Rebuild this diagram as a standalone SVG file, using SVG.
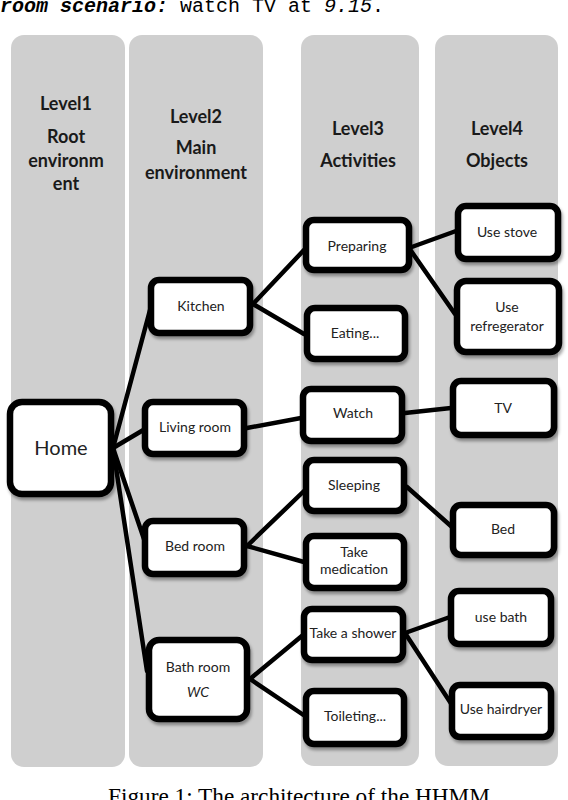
<svg xmlns="http://www.w3.org/2000/svg" width="568" height="800" viewBox="0 0 568 800">
<defs>
<filter id="sh" x="-20%" y="-20%" width="140%" height="150%">
<feDropShadow dx="1.5" dy="3" stdDeviation="1.8" flood-color="#000" flood-opacity="0.35"/>
</filter>
<style>
.col{fill:#cfcfcf;}
.hd{font-family:Lato,"Liberation Sans",sans-serif;font-size:18px;font-weight:bold;fill:#1a1a1a;text-anchor:middle;}
.nd rect{fill:#fff;stroke:#000;stroke-width:6.5;filter:url(#sh);}
.nd text{font-family:Lato,"Liberation Sans",sans-serif;font-size:14px;fill:#222;text-anchor:middle;}
.ln line{stroke:#000;stroke-width:4.5;stroke-linecap:round;}
</style>
</defs>
<rect width="568" height="800" fill="#fff"/>
<text x="0" y="12" font-family="'Liberation Mono',monospace" font-size="20" fill="#000"><tspan font-weight="bold" font-style="italic">room scenario:</tspan> watch TV at <tspan font-style="italic">9.15</tspan>.</text>
<g id="columns">
<rect class="col" x="11" y="35" width="114" height="732" rx="13"/>
<rect class="col" x="129" y="35" width="134" height="732" rx="13"/>
<rect class="col" x="301" y="35" width="118" height="731" rx="13"/>
<rect class="col" x="435" y="35" width="123" height="731" rx="13"/>
</g>
<g id="headers">
<text class="hd" x="66" y="110">Level1</text>
<text class="hd" x="66" y="143">Root</text>
<text class="hd" x="66" y="167">environm</text>
<text class="hd" x="66" y="190">ent</text>
<text class="hd" x="196" y="123">Level2</text>
<text class="hd" x="196" y="154">Main</text>
<text class="hd" x="196" y="179">environment</text>
<text class="hd" x="358" y="135">Level3</text>
<text class="hd" x="358" y="167">Activities</text>
<text class="hd" x="497" y="135">Level4</text>
<text class="hd" x="497" y="167">Objects</text>
</g>
<g id="connectors" class="ln">
<line x1="113" y1="448" x2="150" y2="310"/>
<line x1="113" y1="448" x2="145" y2="429"/>
<line x1="113" y1="448" x2="146" y2="545"/>
<line x1="113" y1="448" x2="147" y2="671"/>
<line x1="253" y1="304" x2="304" y2="250"/>
<line x1="253" y1="304" x2="304" y2="334"/>
<line x1="247" y1="428" x2="301" y2="418"/>
<line x1="247" y1="546" x2="304" y2="491"/>
<line x1="247" y1="546" x2="304" y2="562"/>
<line x1="250" y1="679" x2="303" y2="635"/>
<line x1="250" y1="679" x2="305" y2="716"/>
<line x1="409" y1="248" x2="456" y2="231"/>
<line x1="409" y1="248" x2="455" y2="314"/>
<line x1="405" y1="413" x2="451" y2="408"/>
<line x1="407" y1="487" x2="452" y2="527"/>
<line x1="405" y1="633" x2="450" y2="617"/>
<line x1="405" y1="633" x2="452" y2="705"/>
</g>
<g id="home" class="nd"><rect x="10" y="402" width="101" height="92" rx="12"/><text x="61" y="455" style="font-size:20px">Home</text></g>
<g id="kitchen" class="nd"><rect x="151" y="280" width="99" height="53" rx="8"/><text x="201" y="311">Kitchen</text></g>
<g id="livingroom" class="nd"><rect x="145" y="402" width="99" height="52" rx="8"/><text x="195" y="432">Living room</text></g>
<g id="bedroom" class="nd"><rect x="145" y="521" width="99" height="53" rx="8"/><text x="195" y="551">Bed room</text></g>
<g id="bathroom" class="nd"><rect x="149" y="640" width="98" height="79" rx="10"/><text x="198" y="672">Bath room</text><text x="198" y="697" font-style="italic">WC</text></g>
<g id="preparing" class="nd"><rect x="306" y="220" width="103" height="50" rx="8"/><text x="357" y="251">Preparing</text></g>
<g id="eating" class="nd"><rect x="307" y="308" width="98" height="51" rx="8"/><text x="355" y="338">Eating...</text></g>
<g id="watch" class="nd"><rect x="303" y="389" width="99" height="52" rx="8"/><text x="353" y="418">Watch</text></g>
<g id="sleeping" class="nd"><rect x="306" y="460" width="98" height="51" rx="8"/><text x="354" y="490">Sleeping</text></g>
<g id="takemedication" class="nd"><rect x="306" y="536" width="98" height="52" rx="8"/><text x="354" y="557">Take</text><text x="354" y="574">medication</text></g>
<g id="takeshower" class="nd"><rect x="304" y="609" width="99" height="51" rx="8"/><text x="353" y="638">Take a shower</text></g>
<g id="toileting" class="nd"><rect x="306" y="691" width="98" height="53" rx="8"/><text x="355" y="721">Toileting...</text></g>
<g id="usestove" class="nd"><rect x="458" y="206" width="100" height="53" rx="8"/><text x="507" y="237">Use stove</text></g>
<g id="userefregerator" class="nd"><rect x="457" y="281" width="102" height="71" rx="9"/><text x="507" y="312">Use</text><text x="507" y="331">refregerator</text></g>
<g id="tv" class="nd"><rect x="453" y="381" width="101" height="54" rx="8"/><text x="503" y="413">TV</text></g>
<g id="bed" class="nd"><rect x="453" y="505" width="101" height="50" rx="8"/><text x="503" y="534">Bed</text></g>
<g id="usebath" class="nd"><rect x="451" y="591" width="100" height="53" rx="8"/><text x="501" y="622">use bath</text></g>
<g id="usehairdryer" class="nd"><rect x="452" y="685" width="99" height="52" rx="8"/><text x="501" y="714">Use hairdryer</text></g>
<text x="108" y="804" font-family="'Liberation Serif',serif" font-size="23" fill="#000" textLength="382" lengthAdjust="spacingAndGlyphs">Figure 1: The architecture of the HHMM</text>
</svg>
